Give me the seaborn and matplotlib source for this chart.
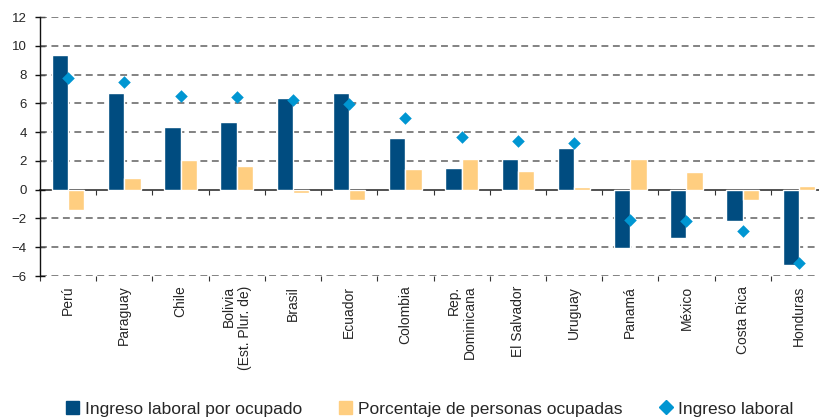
import seaborn as sns
import pandas as pd, numpy as np
import matplotlib.pyplot as plt

paises = ["Perú", "Paraguay", "Chile", "Bolivia\n(Est. Plur. de)", "Brasil", "Ecuador",
          "Colombia", "Rep.\nDominicana", "El Salvador", "Uruguay", "Panamá", "México",
          "Costa Rica", "Honduras"]
ingreso_por_ocupado = [9.36, 6.72, 4.35, 4.70, 6.37, 6.72, 3.59, 1.51, 2.13, 2.90,
                       -4.03, -3.34, -2.15, -5.21]
pct_ocupadas = [-1.41, 0.81, 2.06, 1.67, -0.23, -0.72, 1.44, 2.13, 1.30, 0.19,
                2.13, 1.23, -0.69, 0.25]
ingreso_laboral = [7.76, 7.48, 6.53, 6.42, 6.21, 5.98, 5.00, 3.68, 3.38, 3.27,
                   -2.08, -2.15, -2.85, -5.07]

s1 = "Ingreso laboral por ocupado"
s2 = "Porcentaje de personas ocupadas"
s3 = "Ingreso laboral"
c_navy, c_yellow, c_blue = "#004C80", "#FFCE80", "#0096D2"

df = pd.DataFrame({
    "pais": paises * 2,
    "valor": ingreso_por_ocupado + pct_ocupadas,
    "serie": [s1] * len(paises) + [s2] * len(paises),
})

sns.set_style("white")
plt.rcParams["font.family"] = ["Liberation Sans", "DejaVu Sans"]

fig = plt.figure(figsize=(8.19, 4.19), dpi=100)
ax = fig.add_axes([40 / 819, 143 / 419, 787 / 819, 259 / 419])

sns.barplot(data=df, x="pais", y="valor", hue="serie", order=paises,
            hue_order=[s1, s2], palette=[c_navy, c_yellow], width=0.58, gap=0,
            saturation=1, errorbar=None, legend=False, ax=ax, zorder=2)
sns.stripplot(x=paises, y=ingreso_laboral, order=paises, jitter=False, marker="D",
              size=6.4, color=c_blue, linewidth=0, ax=ax, zorder=4)

n = len(paises)
ax.set_xlim(-0.5, n - 0.5)
ax.set_ylim(-6, 12)
ax.set_yticks(np.arange(-6, 13, 2))
ax.set_xticks(range(n))
ax.set_xticklabels(paises, rotation=90, fontsize=10, va="top", ha="center")
for t in ax.get_xticklabels():
    t.set_multialignment("right")
ax.set_xticks(np.arange(-0.5, n, 1), minor=True)
ax.tick_params(axis="x", which="major", length=0, pad=7)
ax.tick_params(axis="x", which="minor", length=3.5, width=0.8, color="#333333",
               direction="out", bottom=True)
ax.tick_params(axis="y", labelsize=9.5, length=7, width=1, direction="inout",
               color="#111111", pad=6, left=True)
ax.set_xlabel("")
ax.set_ylabel("")

for s in ["top", "right", "bottom"]:
    ax.spines[s].set_visible(False)
ax.spines["left"].set_color("#111111")
ax.spines["left"].set_linewidth(1.0)

# lineas de guia punteadas
for yv in np.arange(-6, 13, 2):
    if yv != 0:
        ax.axhline(yv, color="#606060", lw=1.1, ls=(0, (4.5, 3)), zorder=1)

# eje en cero con marcas
sec = ax.secondary_xaxis(6 / 18)
sec.set_xticks(np.arange(-0.5, n, 1))
sec.set_xticklabels([])
sec.tick_params(axis="x", length=3.5, width=0.8, color="#333333", direction="out")
for s in ["bottom", "top"]:
    sec.spines[s].set_color("#333333")
    sec.spines[s].set_linewidth(1.2)

handles = [
    plt.Rectangle((0, 0), 1, 1, color=c_navy),
    plt.Rectangle((0, 0), 1, 1, color=c_yellow),
    plt.Line2D([], [], marker="D", color=c_blue, ls="none", markersize=7.5),
]
fig.legend(handles, [s1, s2, s3], loc="center", bbox_to_anchor=(430 / 819, 1 - 409 / 419),
           ncol=3, frameon=False, fontsize=12.5, handlelength=0.75, handleheight=0.75,
           handletextpad=0.35, columnspacing=2.1, borderaxespad=0)

fig.savefig("out.png", dpi=100)
